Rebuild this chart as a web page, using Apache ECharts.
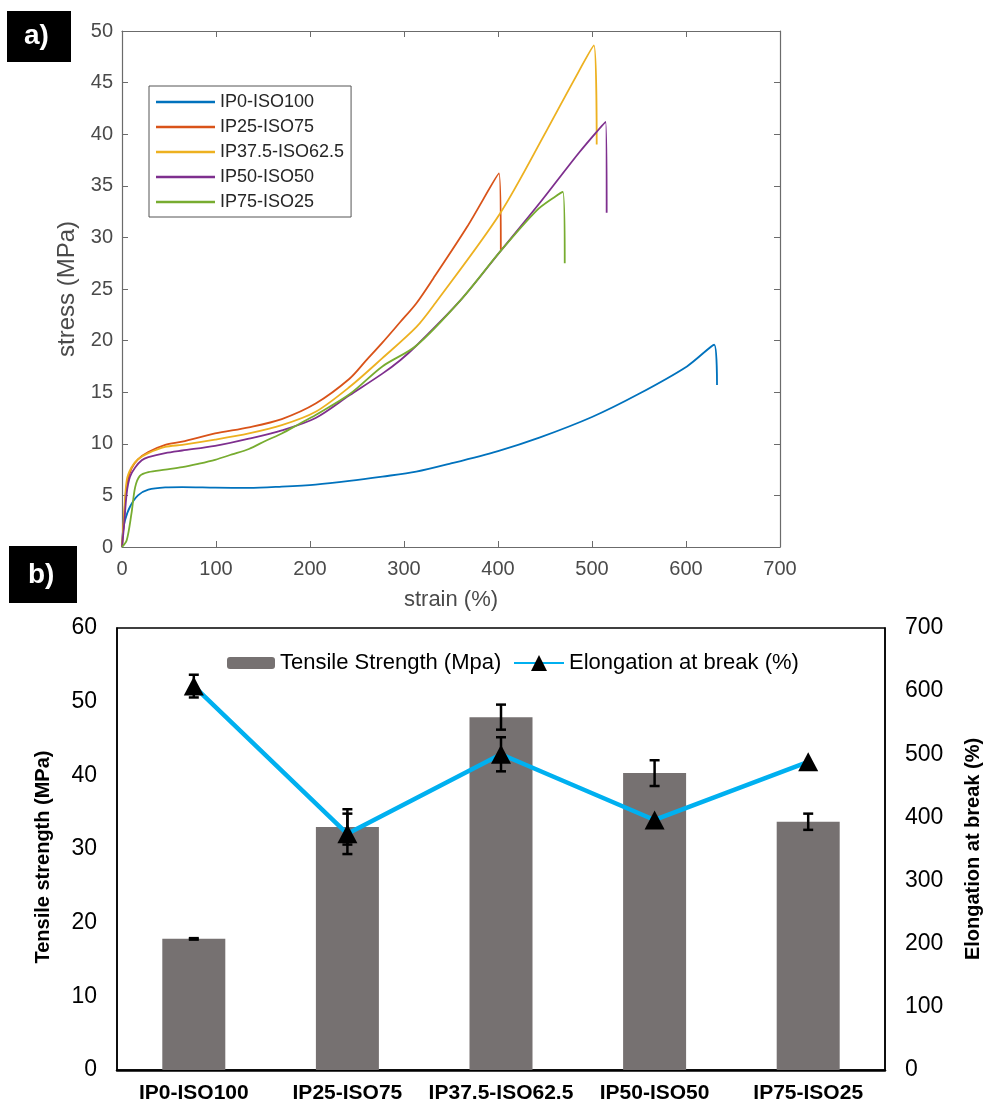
<!DOCTYPE html>
<html>
<head>
<meta charset="utf-8">
<script src="https://cdn.jsdelivr.net/npm/echarts@6/dist/echarts.min.js"></script>
<style>
  html, body { margin: 0; padding: 0; background: #fff; }
  #main { width: 985px; height: 1106px; }
</style>
</head>
<body>
<div id="main"></div>
<script>
// ---- panel a: stress-strain curves ----
const ip0Strain = [0, 1, 3.2, 8.5, 17, 28, 46, 64, 99, 135, 170, 206, 242, 277, 313, 350, 400, 444, 500, 549, 601, 630, 633];
const ip0Stress = [0, 1.5, 2.6, 3.9, 5.0, 5.55, 5.77, 5.8, 5.75, 5.72, 5.85, 6.05, 6.4, 6.82, 7.3, 8.1, 9.3, 10.6, 12.6, 14.8, 17.5, 19.6, 15.7];

const ip25Strain = [0, 2, 5, 10, 17, 28, 46, 64, 99, 135, 170, 206, 242, 260, 277, 296, 313, 331, 367, 401, 403];
const ip25Stress = [0, 2.5, 6.0, 7.6, 8.5, 9.2, 9.9, 10.2, 11.0, 11.6, 12.4, 13.9, 16.3, 18.1, 19.8, 21.8, 23.6, 26.0, 31.0, 36.2, 28.8];

const ip37Strain = [0, 2, 5, 10, 17, 28, 46, 64, 99, 135, 170, 206, 242, 277, 313, 333, 402, 452, 480, 502, 505];
const ip37Stress = [0, 2.8, 6.45, 7.7, 8.5, 9.1, 9.7, 9.9, 10.4, 11.0, 11.8, 13.1, 15.5, 18.3, 21.3, 23.6, 32.3, 40.4, 45.1, 48.6, 39.0];

const ip50Strain = [0, 2, 5, 8.5, 14, 21, 28, 46, 64, 99, 135, 170, 206, 242, 277, 296, 313, 360, 402, 445, 487, 514.5, 515.6];
const ip50Stress = [0, 1.9, 5.2, 6.8, 7.7, 8.4, 8.7, 9.1, 9.35, 9.8, 10.5, 11.3, 12.5, 14.7, 16.8, 18.1, 19.5, 23.9, 28.6, 33.4, 38.3, 41.2, 32.4];

const ip75Strain = [0, 5, 10, 14, 19, 28, 46, 64, 81, 99, 117, 135, 153, 170, 188, 206, 242, 277, 313, 360, 402, 441, 460, 469, 471];
const ip75Stress = [0, 0.65, 3.2, 5.8, 6.9, 7.26, 7.5, 7.74, 8.06, 8.45, 8.97, 9.5, 10.3, 11.0, 11.9, 12.8, 14.8, 17.5, 19.5, 23.9, 28.6, 32.6, 33.9, 34.4, 27.5];

const curveNames = ['IP0-ISO100', 'IP25-ISO75', 'IP37.5-ISO62.5', 'IP50-ISO50', 'IP75-ISO25'];

// ---- panel b: bars + elongation ----
const categories = ['IP0-ISO100', 'IP25-ISO75', 'IP37.5-ISO62.5', 'IP50-ISO50', 'IP75-ISO25'];
const tensile = [17.8, 33.0, 47.9, 40.3, 33.7];
const tensileErr = [0.1, 2.4, 1.7, 1.75, 1.1];
const elongation = [608, 374, 500, 396, 488];
const elongationErr = [18, 32, 27, 0, 0];

const FONT = '"Liberation Sans", Arial, sans-serif';
const matlabColors = ['#0072BD', '#D95319', '#EDB120', '#7E2F8E', '#77AC30'];
const axisGray = '#6b6b6b';
const textGray = '#4a4a4a';

const zip = (xs, ys) => xs.map((x, i) => [x, ys[i]]);
const curves = [
  zip(ip0Strain, ip0Stress),
  zip(ip25Strain, ip25Stress),
  zip(ip37Strain, ip37Stress),
  zip(ip50Strain, ip50Stress),
  zip(ip75Strain, ip75Stress),
];

// error bars (vertical line + two caps)
const errorRender = (params, api) => {
  const x = api.value(0);
  const v = api.value(1);
  const e = api.value(2);
  if (!e) return;
  const top = api.coord([x, v + e]);
  const bot = api.coord([x, v - e]);
  const half = 5;
  const style = { stroke: '#000', lineWidth: 2.5 };
  return {
    type: 'group',
    children: [
      { type: 'line', shape: { x1: top[0], y1: top[1], x2: bot[0], y2: bot[1] }, style },
      { type: 'line', shape: { x1: top[0] - half, y1: top[1], x2: top[0] + half, y2: top[1] }, style },
      { type: 'line', shape: { x1: bot[0] - half, y1: bot[1], x2: bot[0] + half, y2: bot[1] }, style },
    ],
  };
};

const chart = echarts.init(document.getElementById('main'));

const curveSeries = curves.map((data, i) => ({
  name: curveNames[i],
  type: 'line',
  xAxisIndex: 0,
  yAxisIndex: 0,
  data,
  symbol: 'none',
  smooth: 0.3,
  lineStyle: { width: 1.8, color: matlabColors[i] },
  itemStyle: { color: matlabColors[i] },
  z: 3,
}));

const boxAxis = {
  axisLine: { onZero: false, lineStyle: { color: axisGray, width: 1.2 } },
  axisTick: { inside: true, length: 6, lineStyle: { color: axisGray } },
  splitLine: { show: false },
  axisLabel: { show: false },
};

chart.setOption({
  animation: false,
  backgroundColor: '#fff',
  textStyle: { fontFamily: FONT },
  graphic: [
    { type: 'rect', left: 7, top: 11, shape: { width: 64, height: 51 }, style: { fill: '#000' } },
    { type: 'text', left: 24, top: 22, style: { text: 'a)', fill: '#fff', font: 'bold 28px ' + FONT } },
    { type: 'rect', left: 9, top: 546, shape: { width: 68, height: 57 }, style: { fill: '#000' } },
    { type: 'text', left: 28, top: 561, style: { text: 'b)', fill: '#fff', font: 'bold 28px ' + FONT } },
  ],
  legend: [
    {
      data: curveNames,
      orient: 'vertical',
      left: 149,
      top: 86,
      padding: [7, 7, 6, 7],
      itemGap: 7,
      itemWidth: 59,
      itemHeight: 2.5,
      icon: 'rect',
      backgroundColor: '#fff',
      borderColor: '#555',
      borderWidth: 1,
      borderRadius: 0,
      textStyle: { fontSize: 18, color: '#262626', fontFamily: FONT, height: 18, lineHeight: 18 },
    },
    {
      data: ['Tensile Strength (Mpa)'],
      left: 227,
      top: 652,
      padding: 0,
      itemWidth: 48,
      itemHeight: 12,
      textStyle: { fontSize: 22, color: '#000', fontFamily: FONT },
    },
    {
      data: ['Elongation at break (%)'],
      left: 513,
      top: 652,
      padding: 0,
      itemWidth: 50,
      itemHeight: 20,
      textStyle: { fontSize: 22, color: '#000', fontFamily: FONT },
    },
  ],
  grid: [
    { left: 122, top: 31, width: 658, height: 516, show: false, outerBoundsMode: 'none' },
    { left: 117, top: 628, width: 768, height: 442, show: true, borderColor: '#000', borderWidth: 1.5, outerBoundsMode: 'none' },
  ],
  xAxis: [
    {
      type: 'value', gridIndex: 0, min: 0, max: 700, interval: 100,
      axisLine: { onZero: false, lineStyle: { color: axisGray, width: 1.2 } },
      axisTick: { inside: true, length: 6, lineStyle: { color: axisGray } },
      splitLine: { show: false },
      axisLabel: { fontSize: 20, color: textGray, margin: 12, fontFamily: FONT },
      name: 'strain (%)', nameLocation: 'middle', nameGap: 42,
      nameTextStyle: { fontSize: 22, color: textGray, fontFamily: FONT },
    },
    { type: 'value', gridIndex: 0, position: 'top', min: 0, max: 700, interval: 100, ...boxAxis },
    {
      type: 'category', gridIndex: 1, data: categories,
      axisLine: { onZero: false, lineStyle: { color: '#000', width: 2.5 } },
      axisTick: { show: false },
      axisLabel: { fontSize: 21, fontWeight: 'bold', color: '#000', margin: 13, fontFamily: FONT, interval: 0 },
    },
  ],
  yAxis: [
    {
      type: 'value', gridIndex: 0, min: 0, max: 50, interval: 5,
      axisLine: { show: true, onZero: false, lineStyle: { color: axisGray, width: 1.2 } },
      axisTick: { show: true, inside: true, length: 6, lineStyle: { color: axisGray } },
      splitLine: { show: false },
      axisLabel: { fontSize: 20, color: textGray, margin: 9, fontFamily: FONT },
      name: 'stress (MPa)', nameLocation: 'middle', nameGap: 40,
      nameTextStyle: { fontSize: 24, color: textGray, fontFamily: FONT },
    },
    {
      type: 'value', gridIndex: 0, position: 'right', min: 0, max: 50, interval: 5,
      ...boxAxis,
      axisLine: { show: true, onZero: false, lineStyle: { color: axisGray, width: 1.2 } },
      axisTick: { show: true, inside: true, length: 6, lineStyle: { color: axisGray } },
    },
    {
      type: 'value', gridIndex: 1, min: 0, max: 60, interval: 10,
      axisLine: { show: true, onZero: false, lineStyle: { color: '#000', width: 1.5 } },
      axisTick: { show: false },
      splitLine: { show: false },
      axisLabel: { fontSize: 23, color: '#000', margin: 20, fontFamily: FONT },
      name: 'Tensile strength (MPa)', nameLocation: 'middle', nameGap: 64,
      nameTextStyle: { fontSize: 20, fontWeight: 'bold', color: '#000', fontFamily: FONT, padding: [0, 16, 0, 0] },
    },
    {
      type: 'value', gridIndex: 1, position: 'right', min: 0, max: 700, interval: 100,
      axisLine: { show: true, onZero: false, lineStyle: { color: '#000', width: 1.5 } },
      axisTick: { show: false },
      splitLine: { show: false },
      axisLabel: { fontSize: 23, color: '#000', margin: 20, fontFamily: FONT },
      name: 'Elongation at break (%)', nameLocation: 'middle', nameGap: 78, nameRotate: 90,
      nameTextStyle: { fontSize: 20, fontWeight: 'bold', color: '#000', fontFamily: FONT },
    },
  ],
  series: [
    ...curveSeries,
    {
      name: 'Tensile Strength (Mpa)',
      type: 'bar',
      xAxisIndex: 2,
      yAxisIndex: 2,
      data: tensile,
      barWidth: 63,
      itemStyle: { color: '#767171' },
      z: 2,
    },
    {
      type: 'custom',
      xAxisIndex: 2,
      yAxisIndex: 2,
      data: tensile.map((v, i) => [i, v, tensileErr[i]]),
      encode: { x: 0, y: 1 },
      renderItem: errorRender,
      z: 3,
      silent: true,
    },
    {
      name: 'Elongation at break (%)',
      type: 'line',
      xAxisIndex: 2,
      yAxisIndex: 3,
      data: elongation,
      symbol: 'triangle',
      symbolSize: [20, 19],
      showAllSymbol: true,
      lineStyle: { color: '#00b0f0', width: 4.5 },
      itemStyle: { color: '#000' },
      z: 4,
    },
    {
      type: 'custom',
      xAxisIndex: 2,
      yAxisIndex: 3,
      data: elongation.map((v, i) => [i, v, elongationErr[i]]),
      encode: { x: 0, y: 1 },
      renderItem: errorRender,
      z: 5,
      silent: true,
    },
  ],
});
</script>
</body>
</html>
